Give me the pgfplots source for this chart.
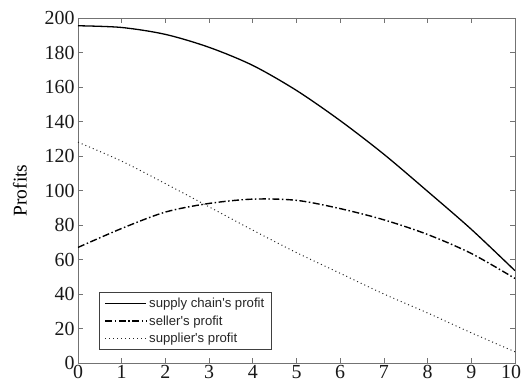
\documentclass[border=0pt]{standalone}
\usepackage{pgfplots}
\pgfplotsset{compat=1.18}
\usepackage{fontspec}
\setmainfont{Liberation Serif}
\newfontfamily\legfont{Liberation Sans}
\begin{document}
\begin{tikzpicture}
\begin{axis}[
  scale only axis, width=437bp, height=345bp,
  xmin=0, xmax=10, ymin=0, ymax=200,
  xtick={0,1,...,10}, ytick={0,20,...,200},
  xticklabels={0,1,2,3,4,5,6,7,8,9,{\hspace*{-8bp}10}},
  tick align=inside, major tick length=5bp,
  axis line style={draw=black!55, line width=0.9bp},
  tick style={draw=black!55, line width=0.8bp},
  tick label style={font=\fontsize{20}{22}\selectfont, text=black!90},
  /pgf/number format/assume math mode=true,
  xticklabel style={inner sep=2.5bp},
  ylabel={Profits},
  ylabel style={font=\fontsize{19.5}{22}\selectfont, at={(axis description cs:-0.133,0.5)}, anchor=center},
  legend style={at={(0.048,0.038)}, anchor=south west, draw=black!75, line width=0.6bp, fill=white,
    font=\legfont\fontsize{13.2}{15}\selectfont, inner xsep=5.5bp, inner ysep=3.5bp, row sep=2.5bp,
    nodes={inner sep=2bp, text=black!85}},
  legend cell align=left,
  legend image code/.code={\draw[#1] (0bp,0bp) -- (41bp,0bp);},
]
\addplot[black, line width=1.3bp, smooth] coordinates {
(0,195.5) (1,194.5) (2,190.5) (3,183) (4,172.5) (5,158) (6,140.5) (7,121) (8,99.5) (9,77.5) (10,53.5)};
\addlegendentry{supply chain's profit}
\addplot[black, line width=1.4bp, smooth, dash pattern=on 7bp off 2.5bp on 1.5bp off 2.5bp] coordinates {
(0,67) (1,78) (2,87.5) (3,92.5) (4,95) (5,94.3) (6,89.5) (7,83) (8,74.5) (9,63.5) (10,49)};
\addlegendentry{seller's profit}
\addplot[black!85, line width=1bp, smooth, dash pattern=on 1bp off 3bp] coordinates {
(0,128) (1,117) (2,104) (3,90.5) (4,77) (5,64) (6,52) (7,40) (8,29) (9,17.5) (10,6.5)};
\addlegendentry{supplier's profit}
\end{axis}
\pgfresetboundingbox
\path[use as bounding box] ([xshift=-78bp,yshift=-25bp]current axis.south west) rectangle ([xshift=7bp,yshift=18bp]current axis.north east);
\end{tikzpicture}
\end{document}
